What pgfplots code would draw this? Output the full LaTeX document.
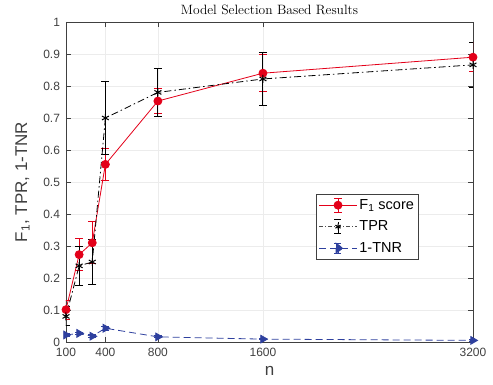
\documentclass[border=0pt]{standalone}
\usepackage{pgfplots}
\pgfplotsset{compat=1.18}
\usepackage{fontspec}
\newfontfamily\helv{Liberation Sans}
\definecolor{myred}{rgb}{0.89,0.0,0.1}
\definecolor{myblue}{rgb}{0.18,0.25,0.62}
\definecolor{axgray}{rgb}{0.25,0.25,0.25}
\begin{document}
\begin{tikzpicture}
\useasboundingbox (0,0) rectangle (493pt,385pt);
\begin{axis}[
  at={(66pt,43pt)}, anchor=south west,
  width=407pt, height=320pt, scale only axis,
  xmin=100, xmax=3200, ymin=0, ymax=1,
  xtick={100,400,800,1600,3200},
  ytick={0,0.1,...,1.0},
  yticklabels={0,0.1,0.2,0.3,0.4,0.5,0.6,0.7,0.8,0.9,1},
  /pgf/number format/assume math mode=true,
  ticklabel style={font=\helv\fontsize{12}{13}\selectfont, text=axgray},
  xticklabel style={/pgf/number format/1000 sep={}, yshift=-2.5pt},
  yticklabel style={xshift=-2.5pt},
  tick align=inside, major tick length=5pt,
  tick style={axgray, line width=0.6pt},
  axis line style={axgray, line width=0.6pt},
  grid=major, grid style={gray!15, line width=0.5pt},
  every axis title shift=0pt,
  title={\fontsize{13.5}{15}\selectfont Model Selection Based Results},
  title style={at={(axis description cs:0.5,1)}, anchor=base, yshift=7pt, inner sep=0pt},
  xlabel={n}, ylabel={F\textsubscript{1}, TPR, 1-TNR},
  label style={font=\helv\fontsize{17}{19}\selectfont, text=axgray},
  xlabel style={at={(axis description cs:0.5,0)}, anchor=base, yshift=-34pt},
  ylabel style={at={(axis description cs:-0.0958,0.5)}, anchor=base},
  legend style={at={(0.615,0.462)}, anchor=north west, font=\helv\fontsize{14.5}{16}\selectfont,
    draw=axgray, line width=0.6pt, inner xsep=2pt, inner ysep=3pt, row sep=6pt,
    legend cell align=left},
  error bars/y dir=both, error bars/y explicit,
  error bars/error mark options={rotate=90, mark size=4pt, line width=1pt},
]
\addplot[myred, line width=0.8pt, mark=*, mark size=4pt,
  error bars/error bar style={myred, line width=1pt},
  legend image code/.code={
    \draw[myred, line width=0.8pt] (0pt,0pt) -- (38pt,0pt);
    \draw[myred, line width=1pt] (19pt,-7pt) -- (19pt,7pt);
    \draw[myred, line width=1pt] (15pt,-7pt) -- (23pt,-7pt);
    \draw[myred, line width=1pt] (15pt,7pt) -- (23pt,7pt);
    \fill[myred] (19pt,0pt) circle (4pt);
  }]
  coordinates {
  (100,0.101) +- (0,0.03)
  (200,0.273) +- (0,0.05)
  (300,0.310) +- (0,0.065)
  (400,0.555) +- (0,0.05)
  (800,0.753) +- (0,0.04)
  (1600,0.840) +- (0,0.057)
  (3200,0.890) +- (0,0.046)
  };
\addlegendentry{F\textsubscript{1} score}
\addplot[black, line width=0.8pt, dash pattern=on 7pt off 3pt on 1.5pt off 3pt,
  mark=asterisk, mark size=4pt, mark options={solid, line width=1pt},
  error bars/error bar style={black, solid, line width=1pt},
  legend image code/.code={
    \draw[black!70, line width=0.8pt, dash pattern=on 4pt off 2pt on 1pt off 2pt] (0pt,0pt) -- (38pt,0pt);
    \draw[black, line width=1pt] (19pt,-7pt) -- (19pt,7pt);
    \draw[black, line width=1pt] (15pt,-7pt) -- (23pt,-7pt);
    \draw[black, line width=1pt] (15pt,7pt) -- (23pt,7pt);
    \draw[black, line width=1pt] plot[mark=asterisk, mark size=3pt] coordinates {(19pt,0pt)};
  }]
  coordinates {
  (100,0.080) +- (0,0.03)
  (200,0.238) +- (0,0.06)
  (300,0.250) +- (0,0.071)
  (400,0.700) +- (0,0.115)
  (800,0.780) +- (0,0.075)
  (1600,0.822) +- (0,0.084)
  (3200,0.866) +- (0,0.07)
  };
\addlegendentry{TPR}
\addplot[myblue, line width=0.8pt, dash pattern=on 7pt off 4pt,
  mark=triangle*, mark size=4.5pt, mark options={solid, rotate=-90},
  error bars/error bar style={myblue, solid, line width=1pt},
  legend image code/.code={
    \draw[myblue, line width=0.8pt, dash pattern=on 7pt off 4pt] (0pt,0pt) -- (38pt,0pt);
    \draw[myblue, line width=1pt] (19pt,-5pt) -- (19pt,5pt);
    \draw[myblue, line width=1pt] (15pt,-5pt) -- (23pt,-5pt);
    \draw[myblue, line width=1pt] (15pt,5pt) -- (23pt,5pt);
    \fill[myblue] (17pt,-5pt) -- (24pt,0pt) -- (17pt,5pt) -- cycle;
  }]
  coordinates {
  (100,0.022) +- (0,0.006)
  (200,0.027) +- (0,0.004)
  (300,0.018) +- (0,0.004)
  (400,0.043) +- (0,0.006)
  (800,0.016) +- (0,0.003)
  (1600,0.009) +- (0,0.002)
  (3200,0.005) +- (0,0.002)
  };
\addlegendentry{1-TNR}
\end{axis}
\end{tikzpicture}
\end{document}
